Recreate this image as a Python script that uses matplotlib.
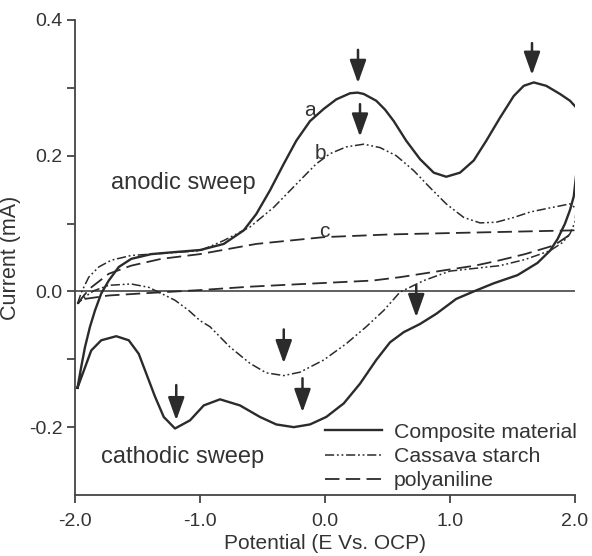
import matplotlib
matplotlib.use("Agg")
import matplotlib.pyplot as plt
from matplotlib.ticker import FixedLocator

plt.rcParams['font.family'] = ['Liberation Sans', 'DejaVu Sans']

# ---- Data ----
# Composite material: anodic branch (-2 -> 2) then cathodic branch (2 -> -2)
comp_x = [-1.98, -1.95, -1.92, -1.88, -1.84, -1.79, -1.73, -1.65, -1.55, -1.39, -1.2, -1.0,
          -0.81, -0.65, -0.55, -0.44, -0.33, -0.23, -0.12, -0.01, 0.09, 0.2, 0.26, 0.31,
          0.41, 0.48, 0.55, 0.65, 0.76, 0.87, 0.97, 1.08, 1.19, 1.29, 1.4, 1.51, 1.59,
          1.67, 1.77, 1.88, 1.96, 2.01,
          2.015, 2.01, 1.99, 1.96, 1.92, 1.86, 1.8, 1.7, 1.54, 1.35, 1.19, 1.05, 0.89,
          0.76, 0.63, 0.52, 0.41, 0.28, 0.15, 0.01, -0.12, -0.25, -0.39, -0.52, -0.68,
          -0.84, -0.97, -1.08, -1.2, -1.29, -1.36, -1.43, -1.49, -1.57, -1.67, -1.79,
          -1.87, -1.92, -1.98]
comp_y = [-0.142, -0.111, -0.082, -0.052, -0.028, -0.003, 0.016, 0.036, 0.048, 0.055, 0.058, 0.061,
          0.070, 0.090, 0.114, 0.149, 0.188, 0.222, 0.251, 0.269, 0.283, 0.292, 0.293, 0.291,
          0.281, 0.268, 0.251, 0.222, 0.195, 0.175, 0.169, 0.175, 0.193, 0.222, 0.256, 0.288, 0.303,
          0.308, 0.303, 0.291, 0.281, 0.271,
          0.222, 0.173, 0.140, 0.120, 0.100, 0.077, 0.060, 0.042, 0.024, 0.012, 0.0, -0.011, -0.033,
          -0.048, -0.060, -0.075, -0.101, -0.136, -0.165, -0.185, -0.196, -0.2, -0.196, -0.185, -0.168,
          -0.159, -0.168, -0.190, -0.202, -0.185, -0.155, -0.121, -0.092, -0.072, -0.066, -0.072,
          -0.087, -0.112, -0.142]

# Cassava starch
cas_x = [-1.98, -1.95, -1.93, -1.89, -1.81, -1.71, -1.55, -1.31, -1.0, -0.81, -0.6, -0.41,
         -0.23, -0.07, 0.04, 0.17, 0.31, 0.44, 0.57, 0.71, 0.84, 0.97, 1.11, 1.24, 1.37,
         1.51, 1.64, 1.77, 1.96, 2.01,
         2.0, 1.96, 1.9, 1.8, 1.6, 1.4, 1.2, 1.0, 0.79, 0.6, 0.47, 0.33, 0.17, -0.01,
         -0.2, -0.33, -0.47, -0.6, -0.76, -0.92, -1.0, -1.09, -1.2, -1.31, -1.41, -1.55,
         -1.73, -1.85, -1.92, -1.98]
cas_y = [-0.018, -0.002, 0.006, 0.021, 0.036, 0.046, 0.053, 0.056, 0.060, 0.075, 0.095, 0.124,
         0.158, 0.188, 0.203, 0.213, 0.217, 0.212, 0.200, 0.178, 0.153, 0.129, 0.109, 0.101, 0.102,
         0.109, 0.117, 0.122, 0.129, 0.122,
         0.102, 0.085, 0.072, 0.060, 0.047, 0.038, 0.034, 0.030, 0.016, -0.001, -0.028, -0.052,
         -0.077, -0.101, -0.119, -0.124, -0.120, -0.106, -0.082, -0.052, -0.043, -0.028, -0.013,
         -0.003, 0.006, 0.011, 0.009, 0.001, -0.008, -0.018]

# Polyaniline
pani_x = [-1.98, -1.92, -1.87, -1.73, -1.55, -1.31, -1.0, -0.55, -0.01, 0.52, 1.0, 1.5, 1.99,
          1.97, 1.85, 1.8, 1.6, 1.4, 1.2, 0.95, 0.6, 0.38, -0.28, -0.6, -1.0, -1.47, -1.73,
          -1.92, -1.98]
pani_y = [-0.018, -0.004, 0.006, 0.026, 0.038, 0.048, 0.055, 0.070, 0.080, 0.084, 0.086, 0.088, 0.090,
          0.085, 0.070, 0.066, 0.055, 0.046, 0.038, 0.031, 0.021, 0.016, 0.010, 0.007, 0.002, -0.003,
          -0.006, -0.011, -0.018]

# Peak arrows: x position, tail y, tip y
arrow_x = [0.264, 0.28, 1.656, -1.19, -0.33, -0.18, 0.73]
arrow_tail = [0.356, 0.276, 0.366, -0.138, -0.056, -0.128, 0.009]
arrow_tip = [0.307, 0.228, 0.319, -0.190, -0.106, -0.178, -0.038]

legend_labels = ["Composite material", "Cassava starch", "polyaniline"]
x_ticks = [-2.0, -1.0, 0.0, 1.0, 2.0]
y_ticks = [-0.2, 0.0, 0.2, 0.4]
y_minor = [-0.1, 0.1, 0.3]

# ---- Plot ----
ink = '#2b2b2b'
txt = '#333333'
fig = plt.figure(figsize=(5.92, 5.56), dpi=100)
ax = fig.add_axes([75/592, 1-495/556, 500/592, 475/556])

ax.axhline(0, color='#444444', lw=1.2, zorder=1)
l1, = ax.plot(comp_x, comp_y, color=ink, lw=1.7, solid_joinstyle='round', label=legend_labels[0])
l2, = ax.plot(cas_x, cas_y, color=ink, lw=1.1, dashes=(6, 1.8, 1.2, 1.8, 1.2, 1.8),
              dash_joinstyle='round', label=legend_labels[1])
l3, = ax.plot(pani_x, pani_y, color=ink, lw=1.3, dashes=(8, 3.5), dash_joinstyle='round',
              label=legend_labels[2])

for x, t0, t1 in zip(arrow_x, arrow_tail, arrow_tip):
    ax.annotate('', xy=(x, t1), xytext=(x, t0),
                arrowprops=dict(arrowstyle='-|>,head_length=1.4,head_width=0.5',
                                lw=1.8, color=ink, shrinkA=0, shrinkB=0,
                                mutation_scale=10))

ax.text(-0.12, 0.266, 'a', fontsize=15, color=txt, ha='center', va='center')
ax.text(-0.04, 0.203, 'b', fontsize=15, color=txt, ha='center', va='center')
ax.text(-0.008, 0.089, 'c', fontsize=15, color=txt, ha='center', va='center')
ax.text(-1.136, 0.16, 'anodic sweep', fontsize=17, color=txt, ha='center', va='center')
ax.text(-1.136, -0.244, 'cathodic sweep', fontsize=17, color=txt, ha='center', va='center')

ax.set_xlim(-2.0, 2.0)
ax.set_ylim(-0.3, 0.4)
ax.set_xticks(x_ticks)
ax.set_xticklabels([f'{v:.1f}' for v in x_ticks])
ax.set_yticks(y_ticks)
ax.set_yticklabels([f'{v:.1f}' for v in y_ticks])
ax.yaxis.set_minor_locator(FixedLocator(y_minor))
for s in ['top', 'right']:
    ax.spines[s].set_visible(False)
for s in ['left', 'bottom']:
    ax.spines[s].set_color('#444444')
    ax.spines[s].set_linewidth(1.3)
ax.tick_params(which='both', direction='out', length=6, width=1.3, color='#444444',
               labelsize=14, labelcolor=txt)
ax.tick_params(axis='x', pad=7)
ax.tick_params(axis='y', pad=3)
ax.set_xlabel('Potential (E Vs. OCP)', fontsize=15, color=txt, labelpad=3)
ax.set_ylabel('Current (mA)', fontsize=15.5, color=txt, labelpad=6)

leg = ax.legend(handles=[l1, l2, l3], loc='lower right', bbox_to_anchor=(1.02, -0.008),
                frameon=False, fontsize=15.3, handlelength=2.7, handletextpad=0.55,
                labelspacing=0.25, borderaxespad=0.0)
for t in leg.get_texts():
    t.set_color(txt)

fig.savefig('out.png', dpi=100)
